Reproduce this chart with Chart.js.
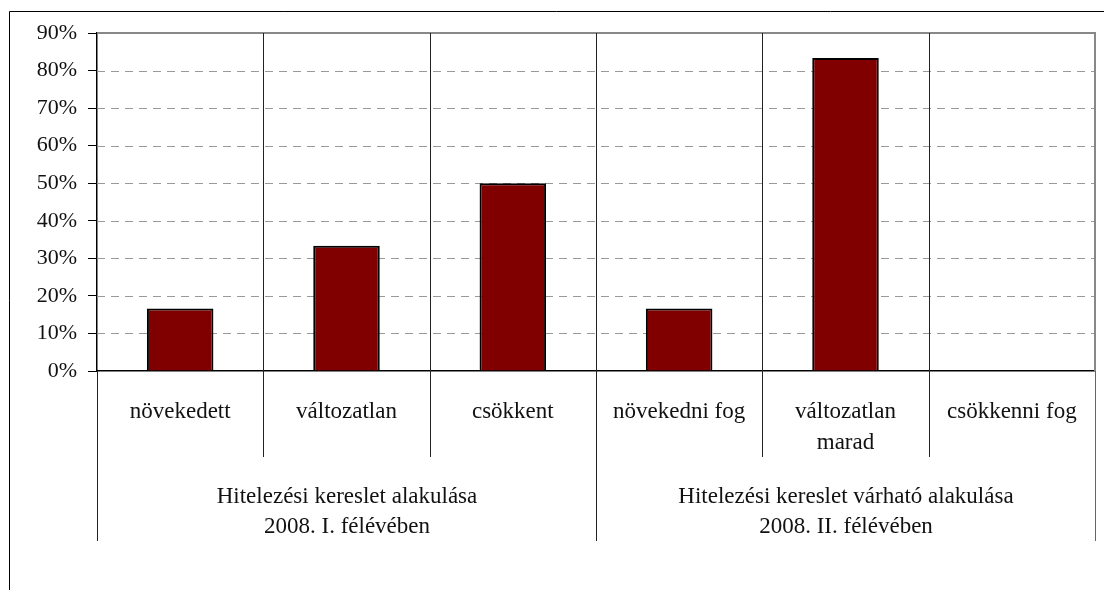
<!DOCTYPE html>
<html>
<head>
<meta charset="utf-8">
<script src="https://cdn.jsdelivr.net/npm/chart.js@4/dist/chart.umd.min.js"></script>
<style>
  html, body { margin: 0; padding: 0; background: #fff; }
  #wrap { width: 1104px; height: 590px; }
</style>
</head>
<body>
<div id="wrap"><canvas id="chart" width="1104" height="590"></canvas></div>
<script>
// ====== Data ======
const categories = ['növekedett', 'változatlan', 'csökkent', 'növekedni fog', ['változatlan', 'marad'], 'csökkenni fog'];
const groups = [
  ['Hitelezési kereslet alakulása', '2008. I. félévében'],
  ['Hitelezési kereslet várható alakulása', '2008. II. félévében']
];
const groupSize = [3, 3];
const shares = [16.67, 33.33, 50, 16.67, 83.33, 0];
const yTicks = [0, 10, 20, 30, 40, 50, 60, 70, 80, 90];

const FONT = '23px "Liberation Serif", "Times New Roman", serif';

// gridlines, separators, frame and two-level category labels
const decor = {
  id: 'decor',
  beforeDatasetsDraw(chart){
    const {ctx, chartArea: a, scales: {x, y}} = chart;
    ctx.save();
    // dashed horizontal grid
    ctx.strokeStyle = '#999';
    ctx.lineWidth = 1;
    ctx.setLineDash([8, 6]);
    yTicks.forEach(t => {
      if(t === 0 || t === 90) return;
      const py = Math.round(y.getPixelForValue(t)) + 0.5;
      ctx.beginPath(); ctx.moveTo(a.left, py); ctx.lineTo(a.right, py); ctx.stroke();
    });
    ctx.setLineDash([]);
    // top and right border of the plot
    ctx.strokeStyle = '#888';
    ctx.lineWidth = 2;
    ctx.beginPath();
    ctx.moveTo(a.left, a.top); ctx.lineTo(a.right, a.top); ctx.lineTo(a.right, a.bottom);
    ctx.stroke();
    ctx.restore();
  },
  afterDraw(chart){
    const {ctx, chartArea: a, scales: {x}} = chart;
    const step = x.getPixelForValue(1) - x.getPixelForValue(0);
    const edge = i => Math.round(x.getPixelForValue(0) - step / 2 + i * step) + 0.5;
    const rowBottom = a.bottom + 86, groupBottom = a.bottom + 170;
    ctx.save();
    ctx.lineWidth = 1;
    // category separators
    let starts = [0]; groupSize.forEach(n => starts.push(starts[starts.length - 1] + n));
    for(let i = 0; i <= categories.length; i++){
      const px = edge(i);
      const isGroup = starts.includes(i);
      ctx.beginPath();
      ctx.moveTo(px, (i === 0 || i === categories.length) ? a.bottom : a.top);
      ctx.lineTo(px, isGroup ? groupBottom : rowBottom);
      ctx.strokeStyle = i === categories.length ? '#666' : '#222';
      ctx.stroke();
    }
    // labels
    ctx.fillStyle = '#111';
    ctx.font = FONT;
    ctx.textAlign = 'center';
    ctx.textBaseline = 'middle';
    categories.forEach((c, i) => {
      const lines = Array.isArray(c) ? c : [c];
      const cx = x.getPixelForValue(i);
      lines.forEach((l, k) => ctx.fillText(l, cx, a.bottom + 41 + k * 31));
    });
    groups.forEach((g, gi) => {
      const cx = (edge(starts[gi]) + edge(starts[gi + 1])) / 2;
      g.forEach((l, k) => ctx.fillText(l, cx, a.bottom + 126 + k * 30));
    });
    // outer frame (top and left)
    ctx.strokeStyle = '#000';
    ctx.beginPath();
    ctx.moveTo(9.5, 590); ctx.lineTo(9.5, 11.5); ctx.lineTo(1104, 11.5);
    ctx.stroke();
    ctx.restore();
  }
};

new Chart(document.getElementById('chart'), {
  type: 'bar',
  data: {
    labels: categories,
    datasets: [{
      data: shares,
      backgroundColor: '#800000',
      borderColor: '#000',
      borderWidth: 2,
      categoryPercentage: 1,
      barPercentage: 0.4
    }]
  },
  options: {
    responsive: false,
    animation: false,
    layout: { padding: { top: 33, right: 9, bottom: 219, left: 0 } },
    plugins: { legend: { display: false }, tooltip: { enabled: false } },
    scales: {
      x: {
        grid: { display: false },
        ticks: { display: false },
        border: { color: '#000', width: 1.5 },
        afterFit(s){ s.height = 0; }
      },
      y: {
        min: 0, max: 90,
        afterFit(s){ s.width = 97; },
        afterBuildTicks(s){ s.ticks = yTicks.map(v => ({value: v})); },
        ticks: {
          callback: v => v + '%',
          font: { family: '"Liberation Serif", "Times New Roman", serif', size: 22 },
          color: '#111',
          padding: 11
        },
        grid: { drawOnChartArea: false, tickLength: 9, tickColor: '#000' },
        border: { color: '#000', width: 1.5 }
      }
    }
  },
  plugins: [decor]
});
</script>
</body>
</html>
